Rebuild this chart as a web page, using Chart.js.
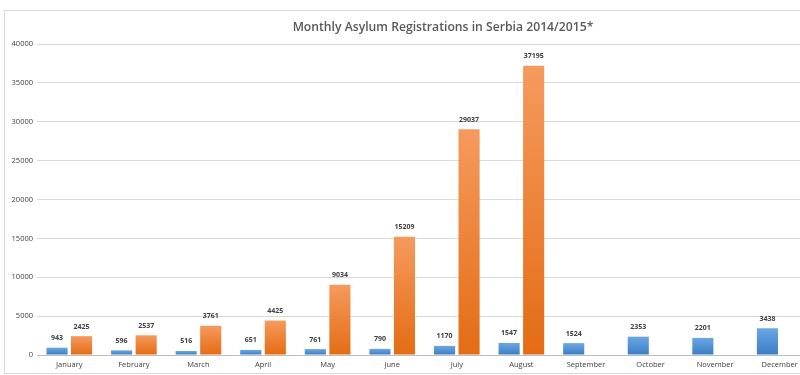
<!DOCTYPE html>
<html lang="en">
<head>
<meta charset="UTF-8">
<title>Monthly Asylum Registrations in Serbia 2014/2015*</title>
<script src="https://cdn.jsdelivr.net/npm/chart.js"></script>
<style>
  html, body { margin: 0; padding: 0; background: #fff; overflow: hidden; width: 800px; height: 375px; }
  #frame { position: absolute; left: 4px; top: 10px; width: 900px; height: 362px; border: 1px solid #d9d9d9; pointer-events: none; }
  #chart { position: absolute; left: 0; top: 0; }
</style>
</head>
<body>
<canvas id="chart" width="886" height="375"></canvas>
<div id="frame"></div>
<script>
// Month categories
const months = ['January', 'February', 'March', 'April', 'May', 'June', 'July', 'August', 'September', 'October', 'November', 'December'];
// Registrations 2014
const reg2014 = [943, 596, 516, 651, 761, 790, 1170, 1547, 1524, 2353, 2201, 3438];
// Registrations 2015 (data only up to August)
const reg2015 = [2425, 2537, 3761, 4425, 9034, 15209, 29037, 37195, null, null, null, null];
const yTicks = [0, 5000, 10000, 15000, 20000, 25000, 30000, 35000, 40000];
const chartTitle = 'Monthly Asylum Registrations in Serbia 2014/2015*';

const FONT = "'Open Sans', 'Liberation Sans', sans-serif";

// gradient per bar, lighter on top
function barGradient(top, bottom) {
    return function (ctx) {
        const chart = ctx.chart;
        const v = ctx.raw;
        if (v == null || !chart.scales.y) return bottom;
        const y0 = chart.scales.y.getPixelForValue(0);
        const y1 = chart.scales.y.getPixelForValue(v);
        if (!isFinite(y0) || !isFinite(y1) || y0 === y1) return bottom;
        const g = chart.ctx.createLinearGradient(0, y1, 0, y0);
        g.addColorStop(0, top);
        g.addColorStop(1, bottom);
        return g;
    };
}

// value labels above bars + title
const valueLabels = {
    id: 'valueLabels',
    afterDatasetsDraw(chart) {
        const ctx = chart.ctx;
        ctx.save();
        ctx.font = "bold 7px " + FONT;
        ctx.fillStyle = '#404040';
        ctx.textAlign = 'center';
        ctx.textBaseline = 'bottom';
        chart.data.datasets.forEach((ds, i) => {
            chart.getDatasetMeta(i).data.forEach((bar, j) => {
                const v = ds.data[j];
                if (v == null) return;
                ctx.fillText(String(v), bar.x, bar.y - 6);
            });
        });
        // title, placed like the original (a bit right of centre)
        ctx.font = "600 12.2px " + FONT;
        ctx.fillStyle = '#595959';
        ctx.textBaseline = 'middle';
        ctx.fillText(chartTitle, 443, 28);
        ctx.restore();
    }
};

new Chart(document.getElementById('chart'), {
    type: 'bar',
    data: {
        labels: months,
        datasets: [
            {
                label: '2014',
                data: reg2014,
                backgroundColor: barGradient('#6aa7e4', '#3b7cc4'),
                categoryPercentage: 0.76,
                barPercentage: 0.86
            },
            {
                label: '2015',
                data: reg2015,
                backgroundColor: barGradient('#f59a5e', '#e46c14'),
                categoryPercentage: 0.76,
                barPercentage: 0.86
            }
        ]
    },
    options: {
        responsive: false,
        animation: false,
        layout: { padding: { left: 4, right: 74, top: 44, bottom: 0 } },
        plugins: {
            legend: { display: false },
            tooltip: { enabled: false },
            title: { display: false }
        },
        scales: {
            x: {
                grid: { display: false, drawTicks: false },
                border: { color: '#bfbfbf' },
                ticks: { color: '#404040', font: { family: FONT, size: 7.5 }, maxRotation: 0, padding: 5 },
                afterFit(axis) { axis.height = 20; }
            },
            y: {
                min: 0,
                max: 40000,
                afterBuildTicks(axis) { axis.ticks = yTicks.map(v => ({ value: v })); },
                afterFit(axis) { axis.width = 33; },
                grid: { color: '#d9d9d9', drawTicks: false },
                border: { display: false },
                ticks: {
                    color: '#404040',
                    font: { family: FONT, size: 7.5 },
                    padding: 4,
                    callback: v => String(v)
                }
            }
        }
    },
    plugins: [valueLabels]
});
</script>
</body>
</html>
